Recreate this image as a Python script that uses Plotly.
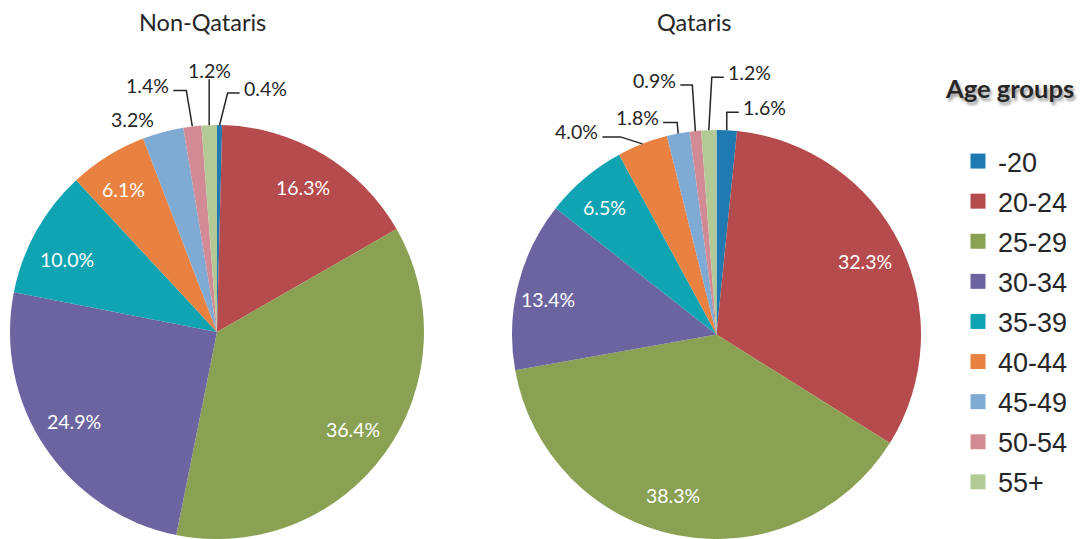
import math
import plotly.graph_objects as go

W, H = 1080, 539

# ---- data ----
age_groups = ["-20", "20-24", "25-29", "30-34", "35-39", "40-44", "45-49", "50-54", "55+"]
non_qataris = [0.4, 16.3, 36.4, 24.9, 10.0, 6.1, 3.2, 1.4, 1.2]
qataris = [1.6, 32.3, 38.3, 13.4, 6.5, 4.0, 1.8, 0.9, 1.2]
titles = ["Non-Qataris", "Qataris"]
legend_title = "Age groups"

colors = ["#1E7AB0", "#B54B4C", "#8AA153", "#6C64A0", "#10A3B1",
          "#E98240", "#7FAAD3", "#D28B95", "#B3CA96"]

# ---- layout geometry (pixels) ----
PIES = [
    dict(cx=217, cy=332, r=207, title_x=202,
         nudge={"40-44": (-5, 0), "30-34": (-4, -4), "35-39": (-3, 9)},
         outside={"-20": dict(elbow=(8, -32), run=12),
                  "55+": dict(elbow=(0, -46), run=0),
                  "50-54": dict(elbow=(-6, -36), run=-13),
                  "45-49": dict(elbow=None, text=(-30, -13))}),
    dict(cx=716.5, cy=334.5, r=204.5, title_x=694,
         nudge={"35-39": (-5, 0), "25-29": (-12, -2), "30-34": (-8, 5)},
         outside={"-20": dict(elbow=(0, -18), run=12),
                  "55+": dict(elbow=(3, -53), run=12),
                  "50-54": dict(elbow=(-3, -46), run=-12),
                  "45-49": dict(elbow=(-1, -11), run=-14),
                  "40-44": dict(elbow=(-22, -7), run=-18)}),
]


def px(x, y):
    return x / W, 1 - y / H


def polar(g, frac, rr):
    a = 2 * math.pi * frac
    return g["cx"] + rr * math.sin(a), g["cy"] - rr * math.cos(a)


fig = go.Figure()
annotations = []
shapes = []
label_font = dict(family="Lato", size=19.5)

for g, values, title in zip(PIES, [non_qataris, qataris], titles):
    x0, y1 = px(g["cx"] - g["r"], g["cy"] - g["r"])
    x1, y0 = px(g["cx"] + g["r"], g["cy"] + g["r"])
    fig.add_trace(go.Pie(
        labels=age_groups, values=values, sort=False, direction="clockwise",
        rotation=0, marker=dict(colors=colors, line=dict(width=0)),
        textinfo="none", showlegend=False, hoverinfo="label+percent",
        domain=dict(x=[max(0, x0), min(1, x1)], y=[max(0, y0), min(1, y1)]),
    ))
    total = sum(values)
    cum = 0.0
    for lab, v in zip(age_groups, values):
        mid = (cum + v / 2) / total
        cum += v
        txt = f"{v:.1f}%"
        if lab in g["outside"]:
            o = g["outside"][lab]
            ex, ey = polar(g, mid, g["r"])
            if o.get("elbow") is None:
                tx, ty = ex + o["text"][0], ey + o["text"][1]
                X, Y = px(tx, ty)
                annotations.append(dict(x=X, y=Y, xref="paper", yref="paper", text=txt,
                                        showarrow=False, xanchor="center", yanchor="middle",
                                        font=dict(color="#262626", **label_font)))
                continue
            bx, by = ex + o["elbow"][0], ey + o["elbow"][1]
            cx_, cy_ = bx + o["run"], by
            p0, p1, p2 = px(ex, ey), px(bx, by), px(cx_, cy_)
            shapes.append(dict(type="path", xref="paper", yref="paper",
                               path=f"M {p0[0]} {p0[1]} L {p1[0]} {p1[1]} L {p2[0]} {p2[1]}",
                               line=dict(color="#262626", width=1.5)))
            if o["run"] > 0:
                X, Y = px(cx_ + 2, cy_ - 5)
                xa = "left"
            elif o["run"] < 0:
                X, Y = px(cx_ - 2, cy_ - 5)
                xa = "right"
            else:
                X, Y = px(cx_, cy_ - 9)
                xa = "center"
            annotations.append(dict(x=X, y=Y, xref="paper", yref="paper", text=txt,
                                    showarrow=False, xanchor=xa, yanchor="middle",
                                    font=dict(color="#262626", **label_font)))
        else:
            lx, ly = polar(g, mid, 0.81 * g["r"])
            n = g["nudge"].get(lab, (0, 0))
            X, Y = px(lx + n[0], ly + n[1])
            annotations.append(dict(x=X, y=Y, xref="paper", yref="paper", text=txt,
                                    showarrow=False, xanchor="center", yanchor="middle",
                                    font=dict(color="white", **label_font)))
    TX, TY = px(g["title_x"], 22)
    annotations.append(dict(x=TX, y=TY, xref="paper", yref="paper", text=title,
                            showarrow=False, xanchor="center", yanchor="middle",
                            font=dict(family="Lato", size=23.5, color="#262626")))

# legend title
LX, LY = px(1009, 88)
annotations.append(dict(x=LX, y=LY, xref="paper", yref="paper", text=f"<b>{legend_title}</b>",
                        showarrow=False, xanchor="center", yanchor="middle",
                        font=dict(family="Lato", size=25.5, color="#262626",
                                  shadow="2px 3px 3px #9a9a9a")))

# legend entries
for lab, c in zip(age_groups, colors):
    fig.add_trace(go.Scatter(x=[None], y=[None], mode="markers", name=lab,
                             legendgroup=lab,
                             marker=dict(symbol="square", size=15, color=c)))

lgx, lgy = px(958, 137)
fig.update_layout(
    width=W, height=H, margin=dict(l=0, r=0, t=0, b=0),
    paper_bgcolor="white", plot_bgcolor="white",
    xaxis=dict(visible=False), yaxis=dict(visible=False),
    annotations=annotations, shapes=shapes,
    showlegend=True,
    legend=dict(x=lgx, y=lgy, xanchor="left", yanchor="top",
                font=dict(family="Liberation Sans", size=27, color="#262626"),
                tracegroupgap=2, bgcolor="rgba(0,0,0,0)", itemsizing="trace"),
)

fig.write_html("out.html", config={"displayModeBar": False},
               post_script="document.body.style.margin='0';document.body.style.overflow='hidden';")
